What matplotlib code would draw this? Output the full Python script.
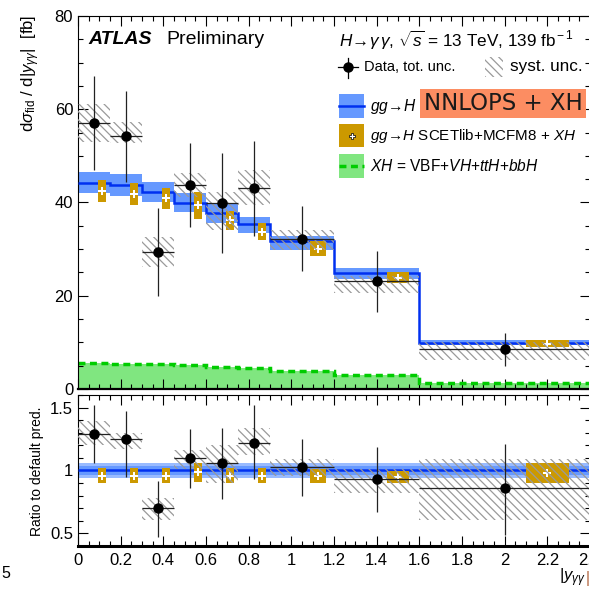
import matplotlib
matplotlib.use("Agg")
import matplotlib.pyplot as plt
import numpy as np
from matplotlib.patches import Rectangle
from matplotlib.lines import Line2D
from matplotlib.ticker import MultipleLocator, FuncFormatter

plt.rcParams['font.family'] = ['Liberation Sans', 'DejaVu Sans']
plt.rcParams['mathtext.fontset'] = 'custom'
plt.rcParams['mathtext.rm'] = 'Liberation Sans'
plt.rcParams['mathtext.it'] = 'Liberation Sans:italic'
plt.rcParams['mathtext.bf'] = 'Liberation Sans:bold'
plt.rcParams['hatch.linewidth'] = 0.9

# |y_gg| bins
bin_edges = np.array([0, 0.15, 0.3, 0.45, 0.6, 0.75, 0.9, 1.2, 1.6, 2.4])

# data with total and systematic uncertainties [fb]
data_xs = np.array([57.0, 54.2, 29.4, 43.7, 39.9, 43.1, 32.2, 23.2, 8.6])
data_tot_hi = np.array([67.1, 63.9, 38.8, 52.7, 50.6, 53.2, 39.2, 29.6, 12.0])
data_tot_lo = np.array([47.0, 44.4, 19.9, 34.7, 29.2, 32.8, 25.3, 16.5, 4.9])
syst_hi = np.array([61.1, 57.2, 32.6, 46.3, 42.2, 46.9, 34.1, 24.3, 10.1])
syst_lo = np.array([53.0, 52.7, 26.2, 41.2, 34.1, 39.4, 29.8, 20.6, 6.2])

# gg->H NNLOPS + XH
nnlops = np.array([44.2, 43.7, 42.2, 39.9, 37.7, 35.4, 31.7, 24.9, 9.9])
nnlops_hi = np.array([46.5, 46.1, 44.4, 42.0, 39.9, 36.9, 32.8, 25.9, 10.5])
nnlops_lo = np.array([42.0, 41.4, 40.1, 37.9, 35.6, 33.4, 29.8, 23.6, 9.4])

# gg->H SCETlib+MCFM8 + XH
scet = np.array([42.4, 41.8, 40.9, 39.4, 36.2, 33.7, 30.0, 23.8, 9.6])
scet_hi = np.array([44.8, 44.2, 43.1, 42.2, 38.2, 35.6, 31.7, 25.1, 10.5])
scet_lo = np.array([40.1, 39.4, 38.6, 36.4, 34.1, 31.9, 28.5, 22.7, 9.0])

# XH = VBF+VH+ttH+bbH
xh = np.array([5.5, 5.4, 5.3, 5.1, 4.7, 4.4, 3.9, 3.0, 1.35])

# ratio panel
ratio_data = np.array([1.29, 1.25, 0.70, 1.10, 1.06, 1.22, 1.03, 0.93, 0.86])
ratio_tot_hi = np.array([1.52, 1.47, 0.92, 1.33, 1.34, 1.52, 1.25, 1.19, 1.21])
ratio_tot_lo = np.array([1.06, 0.95, 0.47, 0.86, 0.77, 0.93, 0.80, 0.67, 0.49])
ratio_syst_hi = np.array([1.39, 1.30, 0.78, 1.16, 1.20, 1.34, 1.09, 1.01, 1.09])
ratio_syst_lo = np.array([1.20, 1.17, 0.61, 1.01, 0.90, 1.12, 0.96, 0.82, 0.61])
ratio_nnlops_outer = (0.944, 1.056)
ratio_nnlops_inner = (0.963, 1.034)
ratio_scet = np.array([0.96, 0.96, 0.96, 0.985, 0.96, 0.96, 0.96, 0.95, 0.98])
ratio_scet_hi = np.array([1.02, 1.02, 1.02, 1.06, 1.02, 1.02, 1.01, 1.00, 1.06])
ratio_scet_lo = np.array([0.90, 0.90, 0.90, 0.91, 0.90, 0.90, 0.90, 0.90, 0.90])

BLUE_LINE = '#0030f0'
BLUE_BAND = '#6699ff'
BLUE_LIGHT = '#99bbff'
GOLD = '#cc9900'
GREEN_FILL = '#80e680'
GREEN_LINE = '#00cc00'
HATCH_COL = '#9a9a9a'

W, H = 589, 605


def fx(x):
    return x / W


def fy(y):
    return 1 - y / H


lefts = bin_edges[:-1]
widths = np.diff(bin_edges)
centers = lefts + widths / 2
gold_x = lefts + 0.75 * widths
gold_w = 0.25 * widths

fig = plt.figure(figsize=(W / 100, H / 100), dpi=100)
ax1 = fig.add_axes([fx(78), fy(389), fx(590 - 78), (389 - 16) / H])
ax2 = fig.add_axes([fx(78), fy(546), fx(590 - 78), (546 - 395) / H])

# ---- top panel
ax1.stairs(xh, bin_edges, fill=True, color=GREEN_FILL, zorder=1)
ax1.stairs(xh, bin_edges, baseline=None, color=GREEN_LINE, lw=2.5,
           linestyle=(0, (2.0, 1.3)), zorder=2)
ax1.bar(lefts, nnlops_hi - nnlops_lo, bottom=nnlops_lo, width=widths,
        align='edge', color=BLUE_BAND, lw=0, zorder=2)
ax1.stairs(nnlops, bin_edges, baseline=None, color=BLUE_LINE, lw=1.8, zorder=3)
ax1.bar(gold_x, scet_hi - scet_lo, bottom=scet_lo, width=gold_w,
        color=GOLD, lw=0, zorder=4)
ax1.plot(gold_x, scet, 'P', color='white', ms=6, mew=0, zorder=5)
ax1.bar(lefts, syst_hi - syst_lo, bottom=syst_lo, width=widths, align='edge',
        fill=False, hatch='\\\\\\\\', edgecolor=HATCH_COL, lw=0, zorder=6)
ax1.errorbar(centers, data_xs, xerr=widths / 2,
             yerr=[data_xs - data_tot_lo, data_tot_hi - data_xs],
             fmt='o', color='black', ecolor='#222222', ms=6.5,
             elinewidth=0.9, capsize=0, zorder=7)

ax1.set_xlim(0, 2.4)
ax1.set_ylim(0, 80)
ax1.xaxis.set_major_locator(MultipleLocator(0.2))
ax1.xaxis.set_minor_locator(MultipleLocator(0.05))
ax1.yaxis.set_major_locator(MultipleLocator(20))
ax1.yaxis.set_minor_locator(MultipleLocator(5))
ax1.tick_params(which='both', direction='in', top=True, right=True,
                labelbottom=False, labelsize=12, width=0.8)
ax1.tick_params(which='major', length=7)
ax1.tick_params(which='minor', length=3.5)
ax1.spines['bottom'].set_linewidth(1.6)

# ---- ratio panel
ax2.bar(lefts, ratio_nnlops_outer[1] - ratio_nnlops_outer[0],
        bottom=ratio_nnlops_outer[0], width=widths, align='edge',
        color=BLUE_LIGHT, lw=0, zorder=1)
ax2.bar(lefts, ratio_nnlops_inner[1] - ratio_nnlops_inner[0],
        bottom=ratio_nnlops_inner[0], width=widths, align='edge',
        color=BLUE_BAND, lw=0, zorder=2)
ax2.stairs(np.ones(len(lefts)), bin_edges, baseline=None, color=BLUE_LINE,
           lw=1.8, zorder=3)
ax2.bar(gold_x, ratio_scet_hi - ratio_scet_lo, bottom=ratio_scet_lo,
        width=gold_w, color=GOLD, lw=0, zorder=4)
ax2.plot(gold_x, ratio_scet, 'P', color='white', ms=6, mew=0, zorder=5)
ax2.bar(lefts, ratio_syst_hi - ratio_syst_lo, bottom=ratio_syst_lo,
        width=widths, align='edge', fill=False, hatch='\\\\\\\\',
        edgecolor=HATCH_COL, lw=0, zorder=6)
ax2.errorbar(centers, ratio_data, xerr=widths / 2,
             yerr=[ratio_data - ratio_tot_lo, ratio_tot_hi - ratio_data],
             fmt='o', color='black', ecolor='#222222', ms=6.5,
             elinewidth=0.9, capsize=0, zorder=7)

ax2.set_xlim(0, 2.4)
ax2.set_ylim(0.4, 1.6)
ax2.xaxis.set_major_locator(MultipleLocator(0.2))
ax2.xaxis.set_minor_locator(MultipleLocator(0.05))
ax2.yaxis.set_major_locator(MultipleLocator(0.5))
ax2.yaxis.set_minor_locator(MultipleLocator(0.1))
fmt = FuncFormatter(lambda v, p: '%g' % round(v, 2))
ax2.xaxis.set_major_formatter(fmt)
ax2.yaxis.set_major_formatter(fmt)
ax2.tick_params(which='both', direction='in', top=True, right=True,
                labelsize=12, width=0.8)
ax2.tick_params(which='major', length=7)
ax2.tick_params(which='minor', length=3.5)
ax2.tick_params(axis='x', pad=5)
ax2.spines['bottom'].set_linewidth(2.2)

# ---- axis titles
fig.text(fx(31), fy(15), r'd$\sigma_{\rm fid}$ / d|$y_{\gamma\gamma}$|  [fb]',
         rotation=90, ha='center', va='top', fontsize=12)
fig.text(fx(37), fy(471), 'Ratio to default pred.', rotation=90,
         ha='center', va='center', fontsize=10)
fig.text(fx(559), fy(581), r'|$y_{\gamma\gamma}$', ha='left',
         va='baseline', fontsize=12)
fig.text(fx(586), fy(583), '|', ha='left', va='baseline', fontsize=11.5,
         color='#b0603a')
fig.text(fx(1), fy(578), '5', ha='left', va='baseline', fontsize=11.5)

# ---- labels
fig.text(fx(88), fy(39), 'ATLAS', fontsize=14, weight='bold',
         style='italic', va='center')
fig.text(fx(166), fy(39), 'Preliminary', fontsize=14, va='center')
fig.text(fx(339), fy(40),
         r'$H\!\rightarrow\!\gamma\,\gamma$, $\sqrt{s}$ = 13 TeV, 139 fb$^{\rm -1}$',
         fontsize=12.3, va='center')

# ---- legend
fig.add_artist(Line2D([fx(338), fx(358)], [fy(67), fy(67)], color='black', lw=0.9))
fig.add_artist(Line2D([fx(348), fx(348)], [fy(58), fy(78)], color='black', lw=0.9))
fig.add_artist(Line2D([fx(348)], [fy(67)], marker='o', color='black', ms=6.5))
fig.text(fx(364), fy(67), 'Data, tot. unc.', fontsize=10.5, va='center')
fig.add_artist(Rectangle((fx(485), fy(77)), fx(18), (77 - 57) / H, fill=False,
                         hatch='\\\\\\\\', edgecolor=HATCH_COL, lw=0))
fig.text(fx(510), fy(66), 'syst. unc.', fontsize=12.3, va='center')

fig.add_artist(Rectangle((fx(339), fy(118)), fx(25), 24 / H, color=BLUE_BAND, lw=0))
fig.add_artist(Line2D([fx(339), fx(364)], [fy(106), fy(106)], color=BLUE_LINE, lw=1.8))
fig.text(fx(370), fy(106), r'$gg\!\rightarrow\!H$', fontsize=11.2, va='center')

fig.add_artist(Rectangle((fx(339), fy(147)), fx(25), 23 / H, color=GOLD, lw=0))
fig.add_artist(Line2D([fx(352)], [fy(136)], marker='P', color='white', ms=5,
                      mec='black', mew=0.5))
fig.text(fx(370), fy(136), r'$gg\!\rightarrow\!H$ SCETlib+MCFM8 + $XH$',
         fontsize=10.9, va='center')

fig.add_artist(Rectangle((fx(339), fy(178)), fx(25), 24 / H, color=GREEN_FILL, lw=0))
fig.add_artist(Line2D([fx(339), fx(364)], [fy(166), fy(166)], color=GREEN_LINE,
                      lw=2.5, linestyle=(0, (2.0, 1.3))))
fig.text(fx(370), fy(166), r'$XH$ = VBF+$VH$+$ttH$+$bbH$', fontsize=11.2, va='center')

# overlay box
fig.add_artist(Rectangle((fx(420), fy(118)), fx(166), 29 / H, color='#fc8d62', lw=0))
fig.text(fx(503), fy(104), 'NNLOPS + XH', fontsize=16.5, ha='center', va='center',
         family='DejaVu Sans', color='#1a1a1a')

fig.savefig('out.png', dpi=100)
